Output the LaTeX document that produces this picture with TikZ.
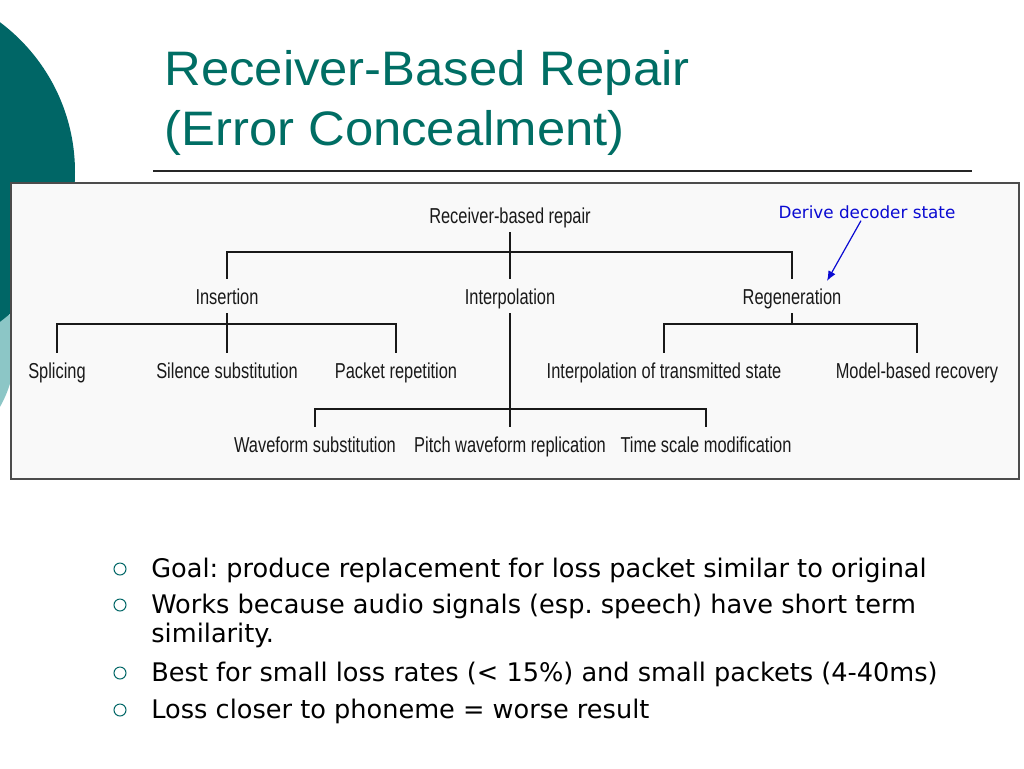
\documentclass[tikz,border=0pt]{standalone}
\usepackage{fontspec}
\setmainfont{Liberation Sans}
\newfontfamily\titlefont[FakeStretch=1.05]{Liberation Sans}
\newfontfamily\treefont[FakeStretch=0.76]{Liberation Sans}
\newfontfamily\bodyfont{DejaVu Sans}
\usepackage{tikz}
\usetikzlibrary{positioning,calc,arrows.meta}
\definecolor{slideTeal}{RGB}{0, 102, 102}
\definecolor{titleTeal}{RGB}{0, 110, 100}
\definecolor{paleTeal}{RGB}{140, 198, 198}
\definecolor{boxFill}{RGB}{249, 249, 249}
\definecolor{treeGray}{RGB}{25, 25, 25}
\definecolor{noteBlue}{RGB}{10, 10, 210}
\frenchspacing

\tikzset{
  lbl/.style={font=\treefont\fontsize{10.8}{12}\selectfont, text=treeGray, inner sep=0pt,
    text height=12.5pt, text depth=4.5pt, anchor=base},
  conn/.style={draw=treeGray, line width=0.7pt},
  item/.style={font=\bodyfont\fontsize{12.8}{15}\selectfont, inner sep=0pt, anchor=base west},
  bul/.style={circle, draw=slideTeal, line width=0.5pt, minimum size=6pt, inner sep=0pt},
}

\begin{document}
\begin{tikzpicture}[x=0.5pt,y=-0.5pt]
  \useasboundingbox[fill=white] (0,0) rectangle (1024,768);
  % corner decoration
  \fill[paleTeal] (-100,350) circle[radius=115];
  \fill[slideTeal] (-112,172) circle[radius=187];
  % title
  \node[font=\titlefont\fontsize{24.2}{28}\selectfont, text=titleTeal, inner sep=0pt, anchor=base west] (title1) at (164,85) {Receiver-Based Repair};
  \node[font=\titlefont\fontsize{24.2}{28}\selectfont, text=titleTeal, inner sep=0pt, anchor=base west] (title2) at (164,145) {(Error Concealment)};
  \draw[line width=1pt, black!85] (153,171) -- (972,171);
  % figure panel
  \draw[fill=boxFill, draw=black!70, line width=0.8pt] (11,183) rectangle (1019,479);

  % tree nodes
  \node[lbl] (root) at (510,223) {Receiver-based repair};
  \node[lbl] (ins) at (227,304) {Insertion};
  \node[lbl] (intp) at (510,304) {Interpolation};
  \node[lbl] (reg) at (792,304) {Regeneration};
  \node[lbl] (spl) at (57,378) {Splicing};
  \node[lbl] (sil) at (227,378) {Silence substitution};
  \node[lbl] (pkt) at (396,378) {Packet repetition};
  \node[lbl] (its) at (664,378) {Interpolation of transmitted state};
  \node[lbl] (mbr) at (917,378) {Model-based recovery};
  \node[lbl] (wfs) at (315,452) {Waveform substitution};
  \node[lbl] (pwr) at (510,452) {Pitch waveform replication};
  \node[lbl] (tsm) at (706,452) {Time scale modification};

  % buses
  \coordinate (bus0) at (510,252);
  \coordinate (bus1) at (227,324);
  \coordinate (bus2) at (792,324);
  \coordinate (bus3) at (510,409);

  \draw[conn] (ins.north) |- (bus0) -| (reg.north);
  \draw[conn] (root.south) -- (intp.north);
  \draw[conn] (spl.north) |- (bus1) -| (pkt.north);
  \draw[conn] (ins.south) -- (sil.north);
  \draw[conn] (its.north) |- (bus2) -| (mbr.north);
  \draw[conn] (reg.south) -- (bus2);
  \draw[conn] (wfs.north) |- (bus3) -| (tsm.north);
  \draw[conn] (intp.south) -- (pwr.north);

  % note
  \node[font=\bodyfont\fontsize{8.4}{10}\selectfont, text=noteBlue, inner sep=0pt, anchor=base] (der) at (867,218) {Derive decoder state};
  \coordinate (regtip) at (827,281);
  \draw[noteBlue, line width=0.6pt, -{Latex[length=5pt,width=4pt]}] ($(der.south)+(-6,2)$) -- (regtip);

  % bullets
  \foreach \i/\y in {1/569, 2/605, 3/673, 4/710} {
    \node[bul] (b\i) at (120,\y) {};
  }
  \node[item] (t1) at (151,577) {Goal: produce replacement for loss packet similar to original};
  \node[item] (t2) at (151,613) {Works because audio signals (esp. speech) have short term};
  \node[item] (t2b) at (151,642) {similarity.};
  \node[item] (t3) at (151,681) {Best for small loss rates (< 15\%) and small packets (4-40ms)};
  \node[item] (t4) at (151,718) {Loss closer to phoneme = worse result};
\end{tikzpicture}
\end{document}
